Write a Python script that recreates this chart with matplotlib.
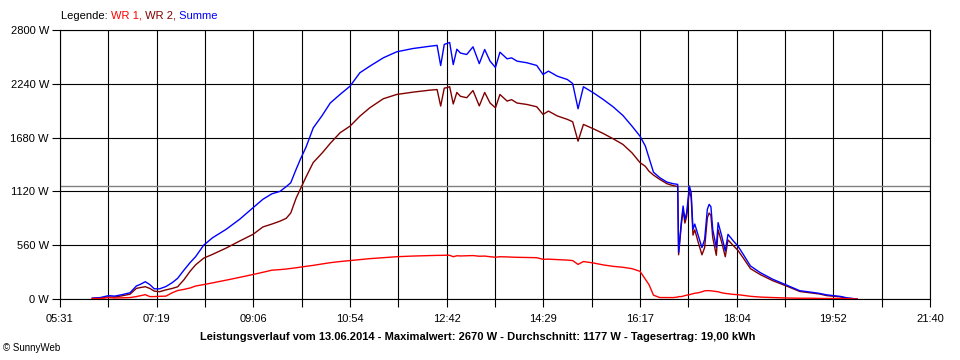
import matplotlib
matplotlib.use("Agg")
import matplotlib.pyplot as plt
import matplotlib.transforms as mtransforms
import numpy as np

plt.rcParams['font.family'] = ['Liberation Sans', 'DejaVu Sans']

# time of day for every sample (HH:MM)
times = ["06:07", "06:16", "06:25", "06:32", "06:40", "06:49", "06:56", "07:01", "07:06", "07:11",
         "07:16", "07:22", "07:29", "07:36", "07:42", "07:49", "07:56", "08:02", "08:11", "08:21",
         "08:36", "08:51", "09:06", "09:17", "09:27", "09:36", "09:43", "09:48", "09:54", "09:59",
         "10:05", "10:13", "10:23", "10:32", "10:43", "10:54", "11:05", "11:16", "11:31", "11:46",
         "12:04", "12:23", "12:31", "12:35", "12:39", "12:42", "12:45", "12:49", "12:53", "12:57",
         "13:04", "13:11", "13:18", "13:24", "13:30", "13:36", "13:41", "13:49", "13:54", "14:00",
         "14:11", "14:22", "14:29", "14:35", "14:45", "14:56", "15:02", "15:08", "15:14", "15:25",
         "15:36", "15:47", "15:58", "16:08", "16:17", "16:23", "16:27", "16:32", "16:39", "16:47",
         "16:54", "16:59", "17:00", "17:03", "17:05", "17:07", "17:09", "17:12", "17:14", "17:16",
         "17:18", "17:22", "17:26", "17:29", "17:32", "17:34", "17:36", "17:38", "17:42", "17:44",
         "17:48", "17:52", "17:55", "18:01", "18:06", "18:12", "18:20", "18:31", "18:45", "19:01",
         "19:15", "19:26", "19:37", "19:45", "20:00", "20:08", "20:19"]

wr1 = [5, 5, 15, 10, 12, 15, 25, 35, 45, 25,
       25, 28, 30, 65, 88, 100, 115, 135, 150, 168,
       196, 225, 255, 278, 300, 306, 312, 318, 325, 332,
       340, 350, 365, 378, 390, 400, 410, 420, 430, 440,
       447, 452, 454, 454, 455, 456, 455, 440, 450, 448,
       450, 452, 445, 447, 440, 435, 440, 438, 436, 434,
       432, 430, 413, 415, 410, 405, 400, 360, 390, 375,
       355, 340, 330, 316, 288, 205, 150, 40, 15, 15,
       15, 20, 25, 25, 30, 35, 40, 45, 50, 55,
       60, 65, 75, 85, 87, 87, 85, 83, 78, 75,
       65, 58, 55, 48, 45, 38, 28, 20, 15, 10,
       8, 8, 6, 5, 5, 3, 0]

wr2 = [5, 10, 20, 20, 33, 50, 110, 120, 128, 110,
       82, 76, 95, 110, 127, 200, 290, 355, 425, 465,
       530, 603, 673, 750, 780, 810, 840, 895, 1050, 1150,
       1270, 1420, 1520, 1620, 1731, 1799, 1903, 1990, 2084, 2129,
       2153, 2174, 2180, 2008, 2195, 2200, 2210, 2030, 2150, 2110,
       2095, 2170, 2010, 2150, 2040, 1990, 2129, 2060, 2075, 2040,
       2025, 2001, 1921, 1956, 1905, 1870, 1845, 1643, 1817, 1772,
       1723, 1668, 1609, 1522, 1420, 1380, 1330, 1290, 1245, 1200,
       1180, 1170, 460, 770, 930, 790, 860, 1130, 1055, 665,
       720, 585, 460, 535, 845, 895, 870, 640, 455, 720,
       590, 440, 615, 555, 507, 427, 316, 254, 190, 132,
       78, 65, 52, 35, 22, 8, 0]

summe = [10, 15, 35, 30, 45, 65, 135, 155, 180, 150,
         106, 106, 130, 170, 215, 300, 380, 440, 560, 638,
         725, 829, 950, 1038, 1095, 1120, 1170, 1210, 1350, 1460,
         1580, 1780, 1910, 2040, 2130, 2215, 2355, 2423, 2510, 2573,
         2607, 2631, 2640, 2430, 2650, 2660, 2670, 2440, 2600, 2560,
         2545, 2625, 2450, 2597, 2476, 2410, 2569, 2500, 2510, 2476,
         2459, 2431, 2337, 2372, 2319, 2285, 2243, 1980, 2209, 2147,
         2077, 2001, 1910, 1800, 1695, 1591, 1470, 1320, 1263, 1217,
         1200, 1193, 484, 800, 968, 829, 899, 1176, 1107, 725,
         780, 656, 535, 620, 933, 985, 960, 725, 535, 795,
         656, 500, 673, 604, 552, 465, 344, 274, 205, 142,
         86, 73, 58, 43, 27, 11, 0]

durchschnitt = 1177
x_labels = ["05:31", "07:19", "09:06", "10:54", "12:42", "14:29", "16:17", "18:04", "19:52", "21:40"]
y_ticks = [0, 560, 1120, 1680, 2240, 2800]


def to_min(s):
    return int(s[:2]) * 60 + int(s[3:])


t = [to_min(s) for s in times]
x0, x1 = to_min(x_labels[0]), to_min(x_labels[-1])

fig = plt.figure(figsize=(9.6, 3.6), dpi=100)
ax = fig.add_axes([60 / 960, 61 / 360, 870 / 960, 269 / 360])

ax.plot(t, wr2, color="#800000", lw=1.0, zorder=3)
ax.plot(t, summe, color="#0000FF", lw=1.0, zorder=4)
ax.plot(t, wr1, color="#FF0000", lw=1.0, zorder=5)
ax.axhline(durchschnitt, color="#808080", lw=1.0, zorder=2)

ax.set_xlim(x0, x1)
ax.set_ylim(0, 2800)
xt = np.linspace(x0, x1, 19)
ax.set_xticks(xt)
ax.set_xticklabels([x_labels[i // 2] if i % 2 == 0 else "" for i in range(19)])
ax.set_yticks(y_ticks)
ax.set_yticklabels([f"{v} W" for v in y_ticks])
ax.tick_params(direction="out", length=6, width=0.8, color="black", labelsize=8)
ax.tick_params(axis="x", pad=5)
ax.tick_params(axis="y", pad=2)
ax.grid(True, color="black", lw=0.8, zorder=1)
for sp in ax.spines.values():
    sp.set_linewidth(0.8)

fig.text(478 / 960, 1 - 337 / 360, "Leistungsverlauf vom 13.06.2014 - Maximalwert: 2670 W - "
         "Durchschnitt: 1177 W - Tagesertrag: 19,00 kWh", ha="center", va="center",
         fontsize=8, fontweight="bold")
fig.text(3 / 960, 1 - 348 / 360, "© SunnyWeb", ha="left", va="center", fontsize=7)

# legend as coloured text pieces
renderer = fig.canvas.get_renderer()
parts = [("Legende: ", "black"), ("WR 1,", "#FF0000"), (" WR 2,", "#800000"), (" Summe", "#0000FF")]
trans = fig.transFigure
xpos = 61 / 960
for s, c in parts:
    txt = fig.text(xpos, 1 - 16 / 360, s, color=c, fontsize=8, ha="left", va="center", transform=trans)
    txt.draw(renderer)
    ex = txt.get_window_extent(renderer)
    trans = mtransforms.offset_copy(txt.get_transform(), fig=fig, x=ex.width, units="dots")

fig.savefig("out.png", dpi=100)
